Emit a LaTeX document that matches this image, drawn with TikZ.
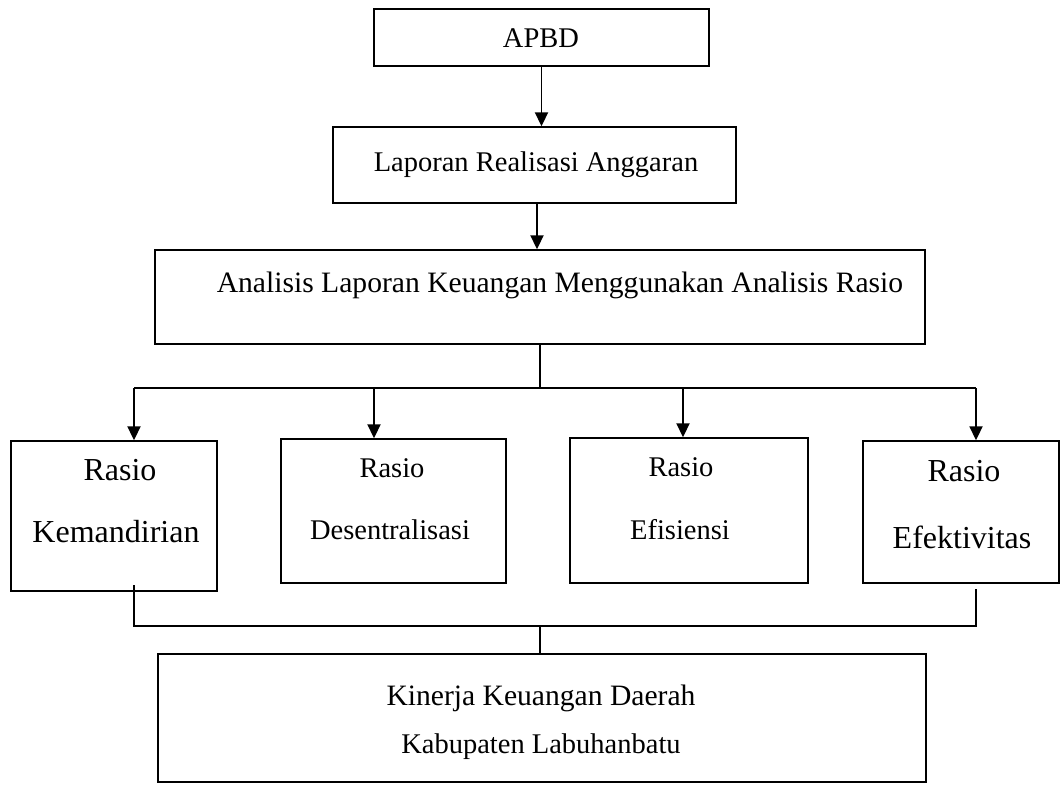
\documentclass[tikz,border=0pt]{standalone}
\usepackage{fontspec}
\setmainfont{Liberation Serif}
\usetikzlibrary{arrows.meta}
\begin{document}
\begin{tikzpicture}[x=1pt,y=-1pt,
  box/.style={draw, line width=1.4pt, inner sep=0pt},
  txt/.style={inner sep=0pt, font=\fontsize{28.5}{32}\selectfont},
  midtxt/.style={inner sep=0pt, font=\fontsize{29.6}{33}\selectfont},
  bigtxt/.style={inner sep=0pt, font=\fontsize{32}{36}\selectfont},
  conn/.style={line width=1.3pt},
  arr/.style={line width=1.9pt, -{Triangle[width=13pt,length=14pt]}}]
\useasboundingbox (0,0) rectangle (1062,784);
% boxes
\node[box, minimum width=335pt, minimum height=57pt] (apbd) at (541.5,37.5) {};
\node[box, minimum width=403pt, minimum height=76pt] (lra) at (534.5,165) {};
\node[box, minimum width=770pt, minimum height=94pt] (ana) at (540,297) {};
\node[box, minimum width=206pt, minimum height=150pt] (k1) at (114,516) {};
\node[box, minimum width=225pt, minimum height=144pt] (k2) at (393.5,511) {};
\node[box, minimum width=238pt, minimum height=145pt] (k3) at (689,510.5) {};
\node[box, minimum width=196pt, minimum height=142pt] (k4) at (961,512) {};
\node[box, minimum width=768pt, minimum height=128pt] (fin) at (542,718) {};
% texts
\node[txt] (tapbd) at (541,38) {APBD};
\node[txt] (tlra) at (536,165) {Laporan Realisasi Anggaran};
\node[midtxt] (tana) at (560,285) {Analisis Laporan Keuangan Menggunakan Analisis Rasio};
\node[bigtxt] (t1a) at (120,470) {Rasio};
\node[bigtxt] (t1b) at (116,532) {Kemandirian};
\node[txt] (t2a) at (392,468) {Rasio};
\node[txt] (t2b) at (390,530) {Desentralisasi};
\node[txt] (t3a) at (681,467) {Rasio};
\node[txt] (t3b) at (680,530) {Efisiensi};
\node[bigtxt] (t4a) at (964,471) {Rasio};
\node[bigtxt] (t4b) at (962,537) {Efektivitas};
\node[midtxt] (tf1) at (541,698) {Kinerja Keuangan Daerah};
\node[txt] (tf2) at (541,747) {Kabupaten Labuhanbatu};
% connectors
\draw[arr] (apbd.south) -- (apbd.south |- lra.north);
\coordinate (c2) at (537,203);
\draw[arr] (c2) -- (c2 |- ana.north);
\coordinate (j1) at (540,388);
\coordinate (hl) at (134,388);
\coordinate (hr) at (976,388);
\coordinate (a2) at (374,388);
\coordinate (a3) at (683,388);
\draw[conn] (ana.south) -- (j1);
\draw[conn] (hl) -- (hr);
\draw[arr] (hl) -- (hl |- k1.north);
\draw[arr] (a2) -- (a2 |- k2.north);
\draw[arr] (a3) -- (a3 |- k3.north);
\draw[arr] (hr) -- (hr |- k4.north);
\coordinate (b1) at (134,585);
\coordinate (b4) at (976,589);
\coordinate (bl) at (134,626);
\coordinate (br) at (976,626);
\coordinate (bc) at (540,626);
\draw[conn] (b1) -- (bl) -- (br) -- (b4);
\draw[conn] (bc) -- (bc |- fin.north);
\end{tikzpicture}
\end{document}
